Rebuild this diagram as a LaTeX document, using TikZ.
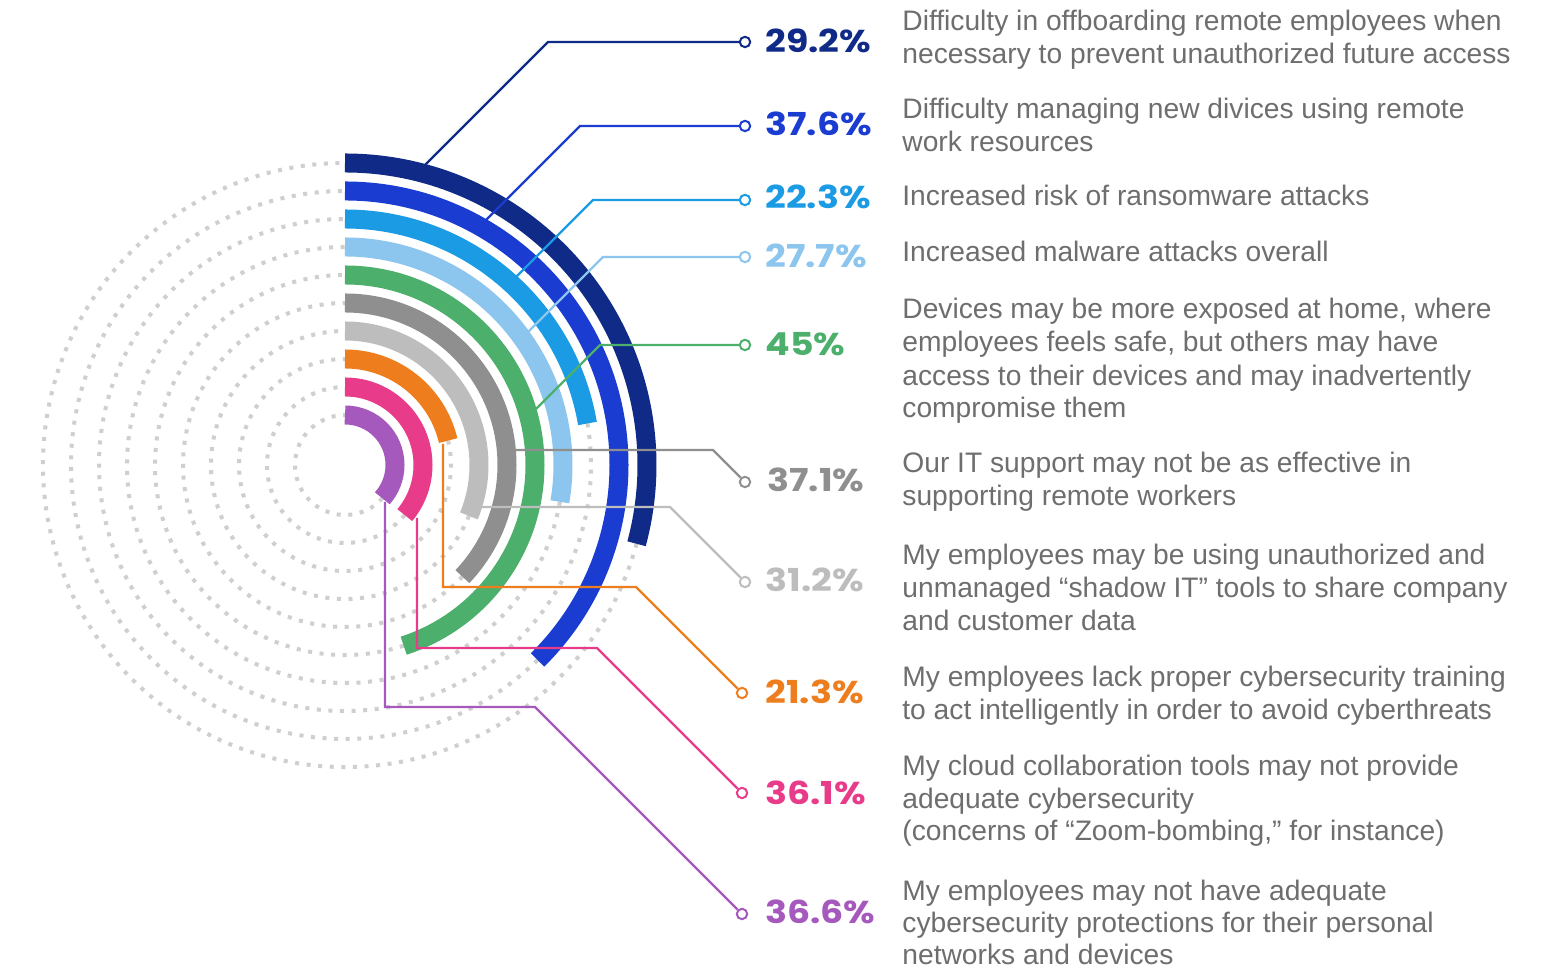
\documentclass[tikz,border=0pt]{standalone}
\usepackage{fontspec}
\setmainfont{Liberation Sans}
\newfontfamily\pctfont{Poppins}[FakeStretch=1.15]
\definecolor{cnavy}{HTML}{0F2A87}
\definecolor{cblue}{HTML}{1A3CD0}
\definecolor{ccyan}{HTML}{1A9BE3}
\definecolor{clblue}{HTML}{8CC5EE}
\definecolor{cgreen}{HTML}{4CAF6B}
\definecolor{cgray}{HTML}{8F8F8F}
\definecolor{clgray}{HTML}{BDBDBD}
\definecolor{corange}{HTML}{EE7D1E}
\definecolor{cpink}{HTML}{E83C8A}
\definecolor{cpurple}{HTML}{A659BD}
\definecolor{dotgray}{HTML}{CFCFCF}
\definecolor{descgray}{HTML}{6E6E6E}
\begin{document}
\begin{tikzpicture}[x=0.5pt,y=0.5pt,
  arcband/.style={line width=9.5pt, line cap=butt},
  dotring/.style={line width=2pt, draw=dotgray, dash pattern=on 2pt off 3.8pt},
  leader/.style={line width=1.1pt},
  marker/.style={circle, draw, fill=white, line width=1pt, minimum size=5.2pt, inner sep=0pt},
  pct/.style={anchor=base west, inner sep=0pt, font=\pctfont\bfseries\fontsize{15.8}{16}\selectfont},
  desc/.style={anchor=base west, inner sep=0pt, text=descgray, font=\fontsize{14.1}{16.5}\selectfont}]
\useasboundingbox (0,0) rectangle (1544,972);
\fill[white] (0,0) rectangle (1544,972);
\coordinate (C) at (345,507);
% dotted remainder of each ring
\foreach \r/\s in {302/105.12, 274/135.36, 246/80.28, 218/99.72, 190/162, 162/133.56, 134/112.32, 106/76.68, 78/129.96, 50/131.76}{
  \draw[dotring] (C) ++({90-\s}:\r) arc[start angle={90-\s}, end angle=-270, radius=\r];
}
% coloured arcs
\foreach \r/\s/\c in {302/105.12/cnavy, 274/135.36/cblue, 246/80.28/ccyan, 218/99.72/clblue, 190/162/cgreen, 162/133.56/cgray, 134/112.32/clgray, 106/76.68/corange, 78/129.96/cpink, 50/131.76/cpurple}{
  \draw[arcband, draw=\c] (C) ++(90:\r) arc[start angle=90, end angle={90-\s}, radius=\r];
}
% leader coordinates
\coordinate (s1) at (425.4,807.4);  \coordinate (k1) at (548,930);
\coordinate (s2) at (486.2,752.2);  \coordinate (k2) at (580,846);
\coordinate (s3) at (516.6,695.6);  \coordinate (k3) at (593,772);
\coordinate (s4) at (528.6,640.6);  \coordinate (k4) at (603,715);
\coordinate (s5) at (536,563);      \coordinate (k5) at (600,627);
\coordinate (s6) at (515,522);      \coordinate (k6) at (713,522);
\coordinate (s7) at (482,465);      \coordinate (k7) at (670,465);
\coordinate (s8) at (443,528);      \coordinate (c8) at (443,385);  \coordinate (k8) at (636,385);
\coordinate (s9) at (417,454);      \coordinate (c9) at (417,324);  \coordinate (k9) at (597,324);
\coordinate (s10) at (385,470);     \coordinate (c10) at (385,265); \coordinate (k10) at (535,265);
% markers
\node[marker, draw=cnavy]   (m1)  at (745,930) {};
\node[marker, draw=cblue]   (m2)  at (745,846) {};
\node[marker, draw=ccyan]   (m3)  at (745,772) {};
\node[marker, draw=clblue]  (m4)  at (745,715) {};
\node[marker, draw=cgreen]  (m5)  at (745,627) {};
\node[marker, draw=cgray]   (m6)  at (745,490) {};
\node[marker, draw=clgray]  (m7)  at (745,390) {};
\node[marker, draw=corange] (m8)  at (742,279) {};
\node[marker, draw=cpink]   (m9)  at (742,179) {};
\node[marker, draw=cpurple] (m10) at (742,58) {};
% leaders
\draw[leader, cnavy]   (s1) -- (k1) -- (m1);
\draw[leader, cblue]   (s2) -- (k2) -- (m2);
\draw[leader, ccyan]   (s3) -- (k3) -- (m3);
\draw[leader, clblue]  (s4) -- (k4) -- (m4);
\draw[leader, cgreen]  (s5) -- (k5) -- (m5);
\draw[leader, cgray]   (s6) -- (k6) -- (m6);
\draw[leader, clgray]  (s7) -- (k7) -- (m7);
\draw[leader, corange] (s8) -- (c8) -- (k8) -- (m8);
\draw[leader, cpink]   (s9) -- (c9) -- (k9) -- (m9);
\draw[leader, cpurple] (s10) -- (c10) -- (k10) -- (m10);
% percentages
\node[pct, text=cnavy]   (p1)  at (765,919)   {29.2\%};
\node[pct, text=cblue]   (p2)  at (765,836.5) {37.6\%};
\node[pct, text=ccyan]   (p3)  at (765,763.5) {22.3\%};
\node[pct, text=clblue]  (p4)  at (765,704.5) {27.7\%};
\node[pct, text=cgreen]  (p5)  at (765,616.5) {45\%};
\node[pct, text=cgray]   (p6)  at (767,480.5) {37.1\%};
\node[pct, text=clgray]  (p7)  at (765,380.5) {31.2\%};
\node[pct, text=corange] (p8)  at (765,268.5) {21.3\%};
\node[pct, text=cpink]   (p9)  at (765,167.5) {36.1\%};
\node[pct, text=cpurple] (p10) at (765,48.5)  {36.6\%};
% descriptions
\node[desc] (d1a) at (902,941) {Difficulty in offboarding remote employees when};
\node[desc] (d1b) at (902,908) {necessary to prevent unauthorized future access};
\node[desc] (d2a) at (902,853) {Difficulty managing new divices using remote};
\node[desc] (d2b) at (902,820) {work resources};
\node[desc] (d3a) at (902,766) {Increased risk of ransomware attacks};
\node[desc] (d4a) at (902,710) {Increased malware attacks overall};
\node[desc] (d5a) at (902,653) {Devices may be more exposed at home, where};
\node[desc] (d5b) at (902,620) {employees feels safe, but others may have};
\node[desc] (d5c) at (902,586) {access to their devices and may inadvertently};
\node[desc] (d5d) at (902,554) {compromise them};
\node[desc] (d6a) at (902,499) {Our IT support may not be as effective in};
\node[desc] (d6b) at (902,466) {supporting remote workers};
\node[desc] (d7a) at (902,407) {My employees may be using unauthorized and};
\node[desc] (d7b) at (902,374) {unmanaged “shadow IT” tools to share company};
\node[desc] (d7c) at (902,341) {and customer data};
\node[desc] (d8a) at (902,285) {My employees lack proper cybersecurity training};
\node[desc] (d8b) at (902,252) {to act intelligently in order to avoid cyberthreats};
\node[desc] (d9a) at (902,196) {My cloud collaboration tools may not provide};
\node[desc] (d9b) at (902,163) {adequate cybersecurity};
\node[desc] (d9c) at (902,131) {(concerns of “Zoom-bombing,” for instance)};
\node[desc] (d10a) at (902,71) {My employees may not have adequate};
\node[desc] (d10b) at (902,39) {cybersecurity protections for their personal};
\node[desc] (d10c) at (902,7) {networks and devices};
\end{tikzpicture}
\end{document}
